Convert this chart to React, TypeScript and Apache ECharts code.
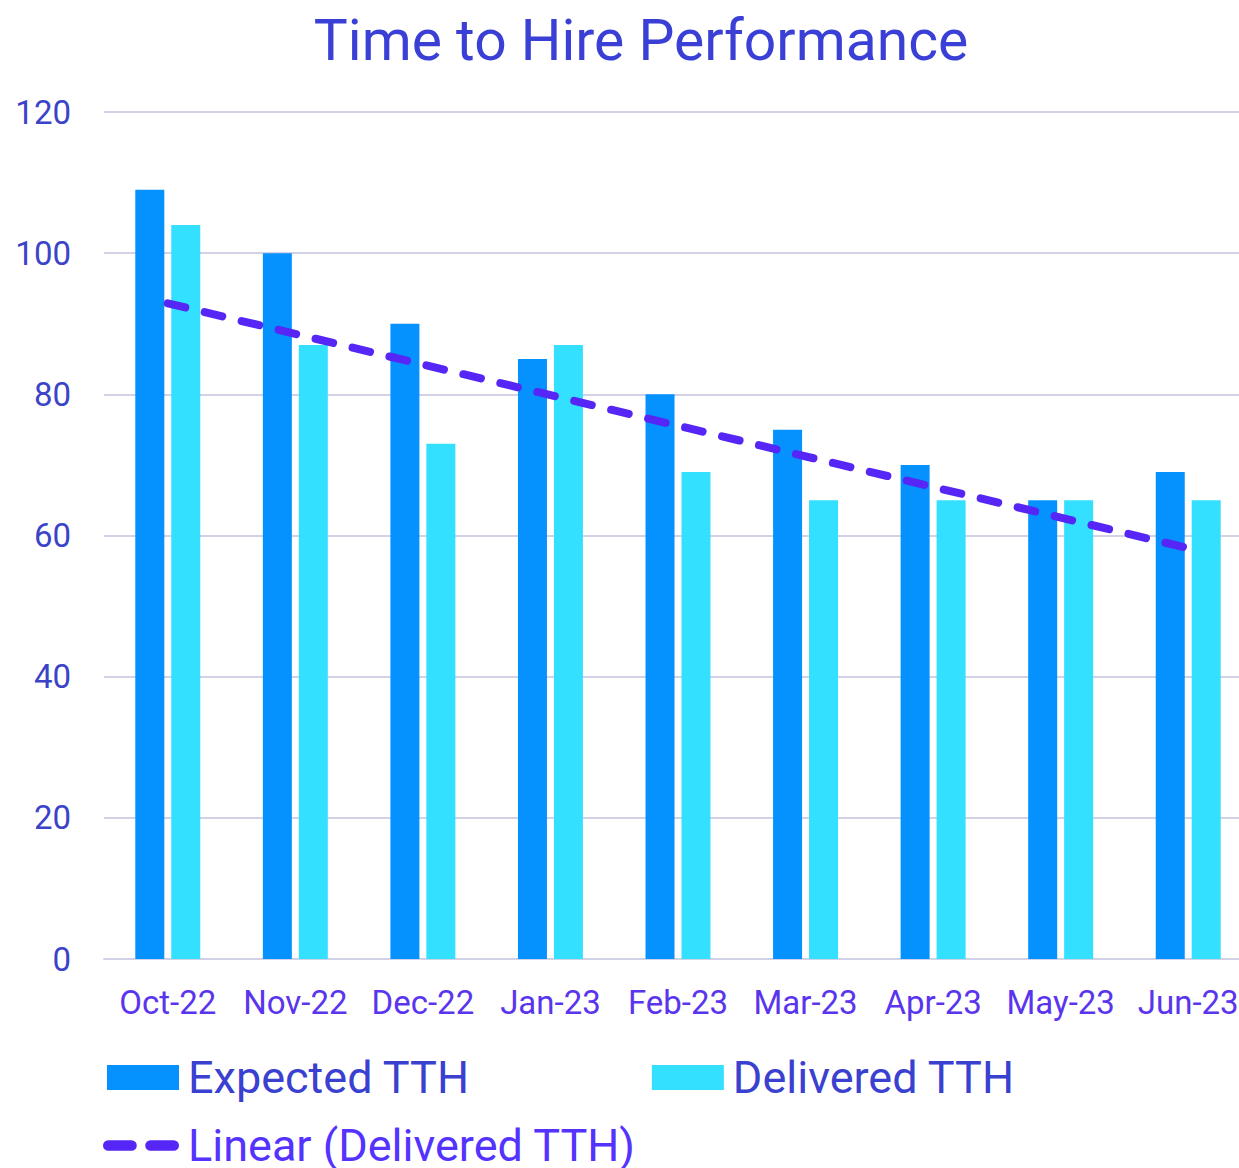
import React, { useEffect, useRef } from "react";
import * as echarts from "echarts";

const categories = ["Oct-22", "Nov-22", "Dec-22", "Jan-23", "Feb-23", "Mar-23", "Apr-23", "May-23", "Jun-23"];
const expectedTTH = [109, 100, 90, 85, 80, 75, 70, 65, 69];
const deliveredTTH = [104, 87, 73, 87, 69, 65, 65, 65, 65];
// Trendline endpoints (first and last category)
const trendStart = 92.9;
const trendEnd = 58.2;
const yTicks = { min: 0, max: 120, interval: 20 };

const FONT = "Roboto, 'Noto Sans', sans-serif";

export default function App() {
  const ref = useRef<HTMLDivElement>(null);
  useEffect(() => {
    document.body.style.margin = "0";
    if (!ref.current) return;
    const chart = echarts.init(ref.current, null, { renderer: "svg" });
    const trend = categories.map((_, i) =>
      i === 0 ? trendStart : i === categories.length - 1 ? trendEnd : null
    );
    const dashIcon =
      "path://M5,0 H27 A5,5 0 0 1 27,10 H5 A5,5 0 0 1 5,0 Z M45,0 H67 A5,5 0 0 1 67,10 H45 A5,5 0 0 1 45,0 Z";
    chart.setOption({
      animation: false,
      textStyle: { fontFamily: FONT },
      title: {
        text: "Time to Hire Performance",
        left: 636,
        textAlign: "center",
        top: 7,
        textStyle: { color: "#3a3fd6", fontSize: 57, fontWeight: "normal", fontFamily: FONT },
      },
      grid: {
        left: 104,
        width: 1148,
        top: 112,
        bottom: 209,
        containLabel: false,
        outerBoundsMode: "none",
      },
      legend: [
        {
          data: [
            { name: "Expected TTH", textStyle: { color: "#3a40d0" } },
            { name: "Delivered TTH", textStyle: { color: "#3a40d0" } },
          ],
          left: 102,
          top: 1050,
          itemWidth: 72,
          itemHeight: 25,
          itemGap: 182,
          icon: "rect",
          textStyle: { fontSize: 45, fontFamily: FONT, padding: [0, 0, 0, 4] },
        },
        {
          data: [{ name: "Linear (Delivered TTH)", icon: dashIcon, textStyle: { color: "#5533ff" } }],
          left: 98,
          top: 1118,
          itemWidth: 76,
          itemHeight: 11,
          textStyle: { fontSize: 45, fontFamily: FONT, padding: [0, 0, 0, 4] },
        },
      ],
      xAxis: {
        type: "category",
        data: categories,
        axisLine: { show: true, lineStyle: { color: "#d2d2e6", width: 2 } },
        axisTick: { show: false },
        axisLabel: { color: "#5a35ee", fontSize: 33, margin: 27, fontFamily: FONT, interval: 0 },
      },
      yAxis: {
        type: "value",
        min: yTicks.min,
        max: yTicks.max,
        interval: yTicks.interval,
        axisLine: { show: false },
        axisTick: { show: false },
        splitLine: { lineStyle: { color: "#d2d2e6", width: 2 } },
        axisLabel: { color: "#3b44c8", fontSize: 33, margin: 33, fontFamily: FONT },
      },
      series: [
        {
          name: "Expected TTH",
          type: "bar",
          data: expectedTTH,
          barWidth: 29,
          barGap: "24%",
          itemStyle: { color: "#0592ff" },
        },
        {
          name: "Delivered TTH",
          type: "bar",
          data: deliveredTTH,
          barWidth: 29,
          itemStyle: { color: "#33e0ff" },
        },
        {
          name: "Linear (Delivered TTH)",
          type: "line",
          data: trend,
          connectNulls: true,
          symbol: "none",
          itemStyle: { color: "#5526f5" },
          lineStyle: { color: "#5526f5", width: 8, type: [18, 20], cap: "round" },
          z: 5,
        },
      ],
    });
    return () => chart.dispose();
  }, []);
  return <div ref={ref} style={{ width: 1239, height: 1168 }} />;
}
